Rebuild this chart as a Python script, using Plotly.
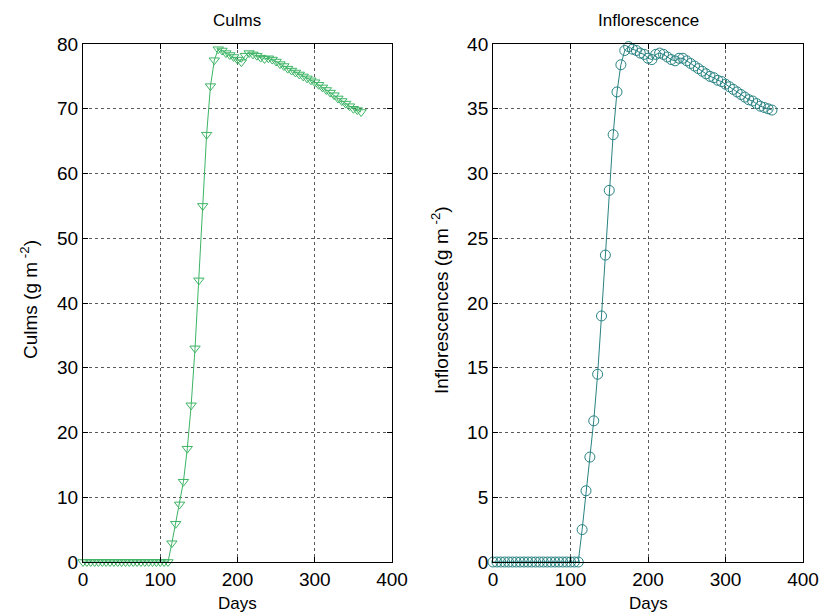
import plotly.graph_objects as go

days = list(range(0, 365, 5))

culms = [0]*23 + [
    2.9, 5.9, 8.9, 12.4, 17.5, 24.2, 33.0, 43.5, 55.0, 66.0, 73.5, 77.5,
    79.2, 79.0, 78.6, 78.3, 78.0, 77.6, 77.2, 78.2, 78.6, 78.4, 78.2, 77.9,
    77.7, 77.8, 77.6, 77.3, 76.9, 76.6, 76.2, 75.9, 75.6, 75.3, 75.0, 74.7,
    74.4, 74.1, 73.7, 73.3, 72.9, 72.5, 72.1, 71.6, 71.2, 70.8, 70.4, 70.0,
    69.8, 69.5]

inflor = [0]*23 + [
    2.5, 5.5, 8.1, 10.9, 14.5, 19.0, 23.7, 28.7, 33.0, 36.3, 38.4, 39.5,
    39.8, 39.6, 39.5, 39.3, 39.2, 38.9, 38.8, 39.2, 39.3, 39.2, 39.0, 38.8,
    38.7, 38.9, 38.9, 38.7, 38.5, 38.3, 38.1, 37.9, 37.7, 37.5, 37.4, 37.2,
    37.1, 36.9, 36.7, 36.5, 36.3, 36.1, 35.9, 35.7, 35.6, 35.4, 35.2, 35.1,
    35.0, 34.9]

x_ticks = [0, 100, 200, 300, 400]
culms_ticks = list(range(0, 81, 10))
inflor_ticks = list(range(0, 41, 5))

FONT = "Liberation Sans, Arial, sans-serif"
green = "rgb(60,180,100)"
teal = "rgb(40,130,130)"

fig = go.Figure()
fig.add_trace(go.Scatter(x=days, y=culms, mode="lines+markers", xaxis="x", yaxis="y",
                         line=dict(color=green, width=1), cliponaxis=False,
                         marker=dict(symbol="triangle-down-open", size=9, color=green, line=dict(width=1)),
                         showlegend=False))
fig.add_trace(go.Scatter(x=days, y=inflor, mode="lines+markers", xaxis="x2", yaxis="y2",
                         line=dict(color=teal, width=1), cliponaxis=False,
                         marker=dict(symbol="circle-open", size=10, color=teal, line=dict(width=1)),
                         showlegend=False))

axcommon = dict(showline=True, linecolor="black", linewidth=1, mirror="allticks",
                ticks="inside", ticklen=5, tickcolor="black",
                showgrid=True, gridcolor="rgb(90,90,90)", griddash="dot", gridwidth=1,
                zeroline=False, tickfont=dict(family=FONT, size=19, color="black"))

fig.update_layout(
    width=825, height=614,
    margin=dict(l=0, r=0, t=0, b=0, autoexpand=False),
    paper_bgcolor="white", plot_bgcolor="white",
    font=dict(family=FONT, color="black"),
    xaxis=dict(domain=[0.1006, 0.4752], range=[0, 400], tickvals=x_ticks, anchor="y", **axcommon),
    yaxis=dict(domain=[0.0847, 0.9283], range=[0, 80], tickvals=culms_ticks, anchor="x", **axcommon),
    xaxis2=dict(domain=[0.5976, 0.9733], range=[0, 400], tickvals=x_ticks, anchor="y2", **axcommon),
    yaxis2=dict(domain=[0.0847, 0.9283], range=[0, 40], tickvals=inflor_ticks, anchor="x2", **axcommon),
)

ann = [
    dict(text="Culms", x=237, y=20, size=17),
    dict(text="Inflorescence", x=648, y=20, size=17),
    dict(text="Days", x=237, y=603, size=17),
    dict(text="Days", x=648, y=603, size=17),
    dict(text="Culms (g m<sup> -2</sup>)", x=29, y=300, textangle=-90, size=19),
    dict(text="Inflorescences (g m<sup> -2</sup>)", x=440, y=300, textangle=-90, size=19),
]
for a in ann:
    fig.add_annotation(text=a["text"], x=a["x"] / 825, y=1 - a["y"] / 614,
                       xref="paper", yref="paper", showarrow=False,
                       textangle=a.get("textangle", 0),
                       xanchor="center", yanchor="middle",
                       font=dict(family=FONT, size=a["size"], color="black"))

fig.write_html("out.html")
